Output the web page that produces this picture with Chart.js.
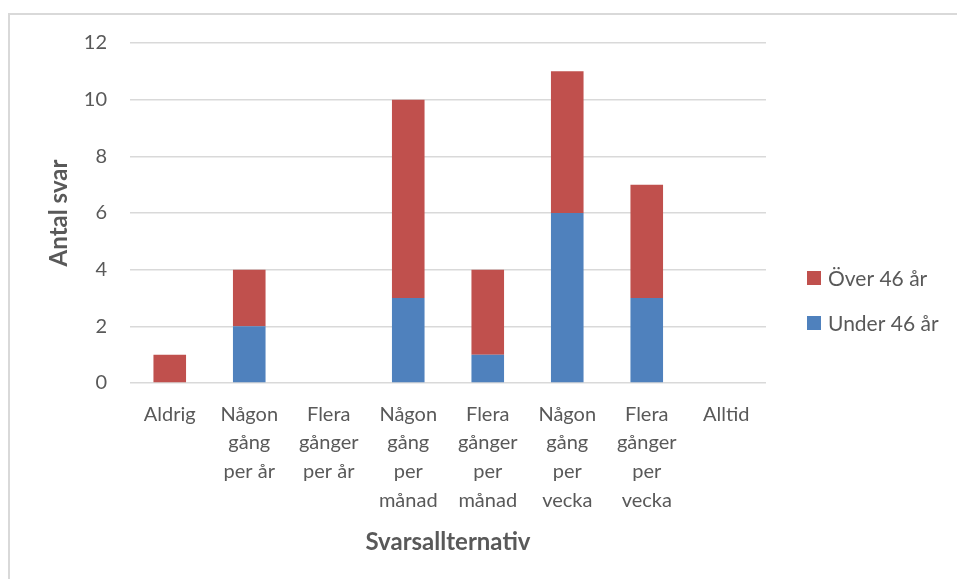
<!DOCTYPE html>
<html>
<head>
<meta charset="utf-8">
<script src="https://cdn.jsdelivr.net/npm/chart.js@4.4.0/dist/chart.umd.min.js"></script>
<style>
  html, body { margin: 0; padding: 0; background: #fff; }
  #wrap { position: relative; width: 957px; height: 579px; overflow: hidden; }
  #frame { position: absolute; left: 8px; top: 13px; width: 1000px; height: 700px; border: 2px solid #d9d9d9; box-sizing: border-box; }
  canvas { position: absolute; left: 0; top: 0; }
</style>
</head>
<body>
<div id="wrap">
  <div id="frame"></div>
  <canvas id="c" width="957" height="579"></canvas>
</div>
<script>
const categories = [
  ["Aldrig"],
  ["Någon", "gång", "per år"],
  ["Flera", "gånger", "per år"],
  ["Någon", "gång", "per", "månad"],
  ["Flera", "gånger", "per", "månad"],
  ["Någon", "gång", "per", "vecka"],
  ["Flera", "gånger", "per", "vecka"],
  ["Alltid"]
];
const under46 = [0, 2, 0, 3, 1, 6, 3, 0];
const over46 = [1, 2, 0, 7, 3, 5, 4, 0];
const seriesNames = ["Under 46 år", "Över 46 år"];
const yTicks = [0, 2, 4, 6, 8, 10, 12];

const FONT = "Lato, 'Open Sans', sans-serif";
const TEXT = "#595959";
const GRID = "#d9d9d9";
const BLUE = "#4F81BD";
const RED = "#C0504D";

const legendPlugin = {
  id: 'sideLegend',
  afterDraw(chart) {
    const ctx = chart.ctx;
    const items = [
      { name: seriesNames[1], color: RED, cy: 278 },
      { name: seriesNames[0], color: BLUE, cy: 323 }
    ];
    ctx.save();
    ctx.font = "21px " + FONT;
    ctx.textBaseline = "middle";
    ctx.textAlign = "left";
    items.forEach(it => {
      ctx.fillStyle = it.color;
      ctx.fillRect(807, it.cy - 7, 14, 14);
      ctx.fillStyle = TEXT;
      ctx.fillText(it.name, 828, it.cy + 1);
    });
    ctx.restore();
  }
};

new Chart(document.getElementById('c'), {
  type: 'bar',
  data: {
    labels: categories,
    datasets: [
      { label: seriesNames[0], data: under46, backgroundColor: BLUE, borderWidth: 0 },
      { label: seriesNames[1], data: over46, backgroundColor: RED, borderWidth: 0 }
    ]
  },
  options: {
    responsive: false,
    animation: false,
    devicePixelRatio: 1,
    layout: { padding: { left: 0, top: 43, right: 191, bottom: 0 } },
    datasets: { bar: { categoryPercentage: 1.0, barPercentage: 0.41 } },
    plugins: {
      legend: { display: false },
      tooltip: { enabled: false }
    },
    scales: {
      x: {
        stacked: true,
        grid: { display: false, drawTicks: false },
        border: { display: false },
        ticks: {
          color: TEXT,
          font: { family: FONT, size: 20, lineHeight: 1.43 },
          padding: 17,
          maxRotation: 0,
          autoSkip: false
        },
        title: {
          display: true,
          text: "Svarsallternativ",
          color: TEXT,
          font: { family: FONT, size: 24, weight: 'bold', lineHeight: 1.2 },
          padding: { top: 0, bottom: 22 }
        },
        afterFit(scale) { scale.height = 196; }
      },
      y: {
        stacked: true,
        min: 0,
        max: 12,
        afterBuildTicks(scale) { scale.ticks = yTicks.map(v => ({ value: v })); },
        grid: { color: GRID, lineWidth: 1.5, drawTicks: false },
        border: { display: false },
        ticks: {
          color: TEXT,
          font: { family: FONT, size: 20 },
          padding: 23
        },
        title: {
          display: true,
          text: "Antal svar",
          color: TEXT,
          font: { family: FONT, size: 24, weight: 'bold', lineHeight: 1.2 },
          padding: { top: 45, bottom: 0 }
        },
        afterFit(scale) { scale.width = 130; }
      }
    }
  },
  plugins: [legendPlugin]
});
</script>
</body>
</html>
